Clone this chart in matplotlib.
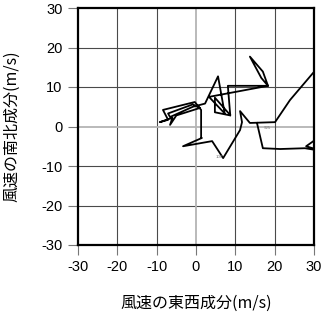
import numpy as np
import matplotlib
matplotlib.use("Agg")
import matplotlib.pyplot as plt

plt.rcParams['font.family'] = ['Liberation Sans', 'Noto Sans CJK JP', 'DejaVu Sans']

# hodograph (u, v) in m/s
u = [15.5, 17.0, 21.4, 27.7, 32.0, 28.0, 33.0, 33.0, 29.8, 23.9, 20.1, 13.7,
     11.2, 11.7, 11.2, 6.9, 4.1, -3.3, 1.5, 1.3, 1.3, -0.3, -8.4, -7.1, -9.2,
     -6.0, -6.6, -5.0, 1.0, -0.8, -7.1, -6.6, -0.8, 2.3, 5.6, 7.3, 3.3, 18.3,
     17.0, 13.7, 16.6, 18.3, 8.1, 8.7, 4.8, 4.8, 8.7]
v = [0.9, -5.5, -5.7, -5.5, -6.2, -5.0, -1.5, 16.5, 13.6, 6.7, 1.1, 0.9,
     3.9, 1.1, -0.9, -8.0, -3.7, -5.0, -2.9, -2.9, 4.2, 6.2, 4.2, 1.7, 1.1,
     2.2, 0.4, 2.8, 4.7, 5.6, 3.3, 2.4, 5.0, 5.8, 12.7, 3.3, 7.5, 10.3,
     13.9, 17.7, 12.3, 10.3, 10.3, 2.9, 7.3, 3.6, 2.8]

lev_labels = ['925', '100']
lev_u = [18.1, 5.9]
lev_v = [-0.4, -7.8]

ticks = [-30, -20, -10, 0, 10, 20, 30]

fig = plt.figure(figsize=(3.23, 3.13), dpi=100)
ax = fig.add_axes([78 / 323, 1 - 245 / 313, 236 / 323, 237 / 313])

for t in ticks[1:-1]:
    c = '#b4b4b4' if t == 0 else '#4a4a4a'
    lw = 1.3 if t == 0 else 0.8
    ax.axvline(t, color=c, lw=lw, zorder=1)
    ax.axhline(t, color=c, lw=lw, zorder=1)

ax.plot(u, v, color='black', lw=1.3, zorder=3, clip_on=True)
for s, x, y in zip(lev_labels, lev_u, lev_v):
    ax.text(x, y, s, fontsize=3.2, color='#777777', ha='center', va='center', zorder=4)

ax.set_xlim(-30, 30)
ax.set_ylim(-30, 30)
ax.set_xticks(ticks)
ax.set_yticks(ticks)
ax.set_xticklabels([str(t) for t in ticks])
ax.set_yticklabels([str(t) for t in ticks])
ax.tick_params(direction='out', length=7, width=0.8, color='#777777',
               labelsize=10.5, pad=4)
for sp in ax.spines.values():
    sp.set_linewidth(1.6)
    sp.set_color('black')

ax.set_xlabel('風速の東西成分(m/s)', fontsize=11.5, labelpad=15,
              family=['Noto Sans CJK JP', 'DejaVu Sans'])
ax.set_ylabel('風速の南北成分(m/s)', fontsize=11.5, labelpad=15,
              family=['Noto Sans CJK JP', 'DejaVu Sans'])

fig.savefig('out.png', dpi=100)
